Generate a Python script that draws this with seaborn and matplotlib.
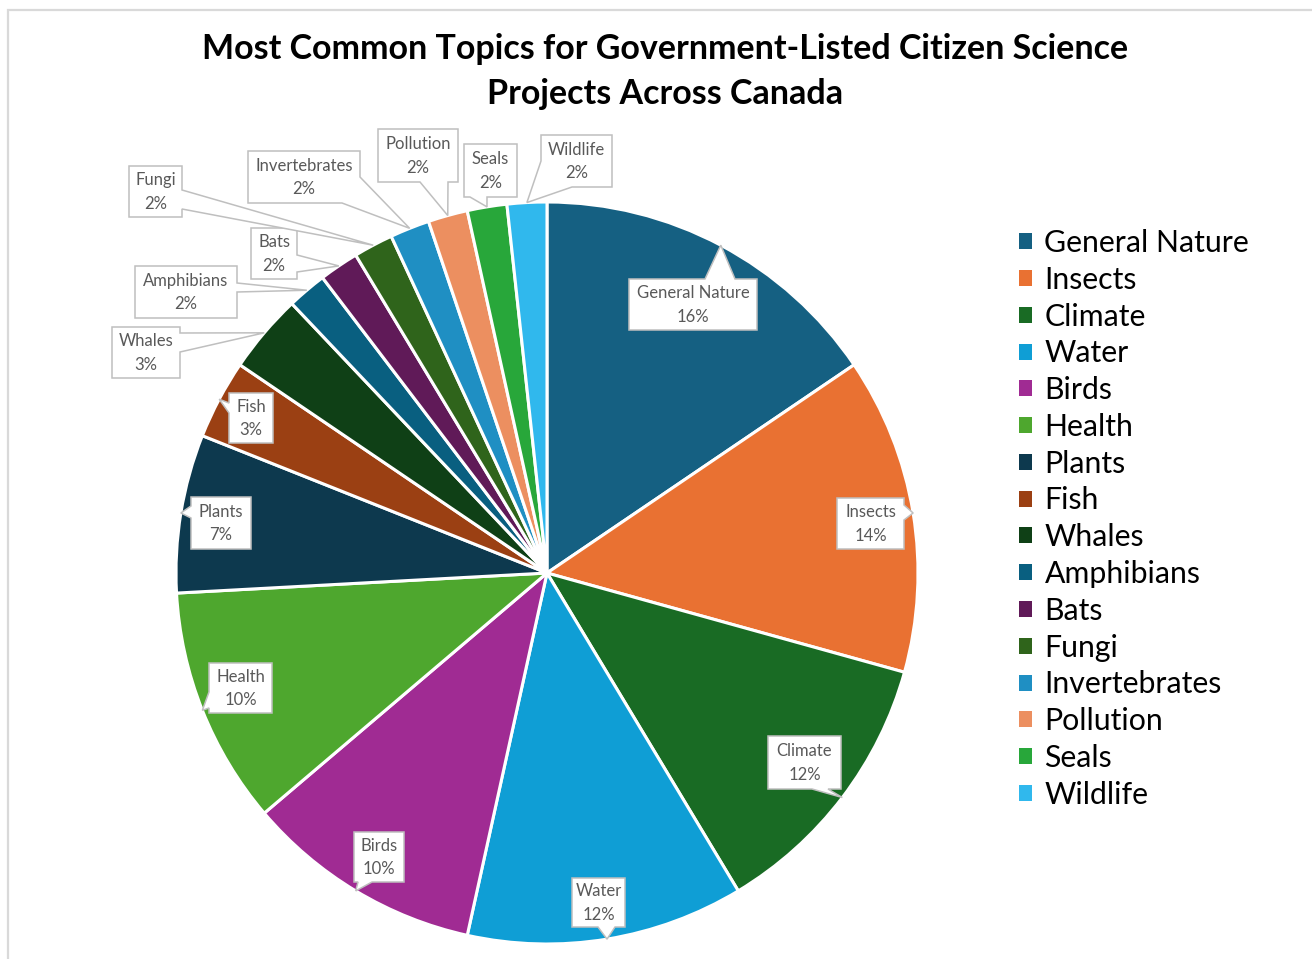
import matplotlib
matplotlib.use("Agg")
import matplotlib.pyplot as plt
import seaborn as sns
import numpy as np
from matplotlib.patches import Polygon, Patch

# ---------------- data ----------------
categories = ["General Nature", "Insects", "Climate", "Water", "Birds", "Health",
              "Plants", "Fish", "Whales", "Amphibians", "Bats", "Fungi",
              "Invertebrates", "Pollution", "Seals", "Wildlife"]
counts = [9, 8, 7, 7, 6, 6, 4, 2, 2, 1, 1, 1, 1, 1, 1, 1]
colors_hex = ["#156082", "#E97132", "#196B24", "#0F9ED5", "#A02B93", "#4EA72E",
              "#0D394E", "#9B4013", "#0F4016", "#095F80", "#601A58", "#2F641B",
              "#1F8FC3", "#EC8F60", "#28A73A", "#30B8ED"]
title_lines = ["Most Common Topics for Government-Listed Citizen Science",
               "Projects Across Canada"]

# ---------------- layout (pixel coords, y from top) ----------------
W, H = 1312, 959
CX, CY, R = 547, 573, 371
label_boxes = [(629, 279, 757, 330), (837, 498, 904, 549), (768, 736, 841, 789),
               (572, 878, 625, 927), (354, 832, 404, 882), (209, 663, 272, 713),
               (191, 497, 251, 549), (229, 393, 273, 443), (112, 327, 180, 378),
               (135, 266, 237, 318), (251, 228, 297, 279), (129, 166, 182, 217),
               (248, 151, 360, 203), (378, 129, 458, 182), (464, 144, 517, 197),
               (541, 135, 612, 187)]
notch_bases = [((705, 279), (735, 279)), ((904, 505), (904, 520)), ((828, 789), (812, 789)),
               ((615, 927), (598, 927)), ((372, 882), (358, 882)), ((209, 708), (209, 692)),
               ((191, 518), (191, 506)), ((229, 413), (229, 403)), ((180, 333), (180, 352)),
               ((237, 283), (237, 292)), ((297, 255), (297, 272)), ((182, 190), (182, 209)),
               ((360, 177), (342, 203)), ((448, 182), (420, 182)), ((487, 197), (470, 197)),
               ((572, 187), (541, 161))]

sns.set_theme(style="white")
plt.rcParams['font.family'] = ['Lato', 'DejaVu Sans']

fig = plt.figure(figsize=(W / 100, H / 100), dpi=100)
ax = fig.add_axes([0, 0, 1, 1])

palette = sns.color_palette(colors_hex)
wedges, _ = ax.pie(counts, colors=palette, startangle=90, counterclock=False,
                   center=(CX, H - CY), radius=R,
                   wedgeprops=dict(edgecolor="white", linewidth=2.2))
ax.set_xlim(0, W)
ax.set_ylim(0, H)
ax.set_aspect("equal")
ax.axis("off")

# chart border (left and top)
ax.plot([8, 8, W + 5], [-5, H - 10, H - 10], color="#D9D9D9", lw=1.6,
        solid_joinstyle="miter", clip_on=False)


def perim_t(box, p):
    x0, y0, x1, y1 = box
    px, py = p
    if abs(py - y0) < 1e-6 and px < x1:
        return (px - x0) / (x1 - x0)
    if abs(px - x1) < 1e-6:
        return 1 + (py - y0) / (y1 - y0)
    if abs(py - y1) < 1e-6:
        return 2 + (x1 - px) / (x1 - x0)
    return 3 + (y1 - py) / (y1 - y0)


def callout(box, pa, pb, tip):
    x0, y0, x1, y1 = box
    corners = [(0, (x0, y0)), (1, (x1, y0)), (2, (x1, y1)), (3, (x0, y1))]
    ta, tb = perim_t(box, pa), perim_t(box, pb)
    pts = []
    for t, c in corners:
        if ta < t < tb:
            continue
        pts.append((t, c))
    pts.append((ta, pa))
    pts.append((ta + 1e-4, tip))
    pts.append((tb, pb))
    pts.sort(key=lambda z: z[0])
    return [p for _, p in pts]


total = sum(counts)
cum = np.cumsum([0] + counts)
for i, name in enumerate(categories):
    mid = (cum[i] + cum[i + 1]) / 2 / total * 2 * np.pi
    tip = (CX + R * np.sin(mid), CY - R * np.cos(mid))
    box = label_boxes[i]
    pa, pb = notch_bases[i]
    poly = callout(box, pa, pb, tip)
    poly = [(x, H - y) for x, y in poly]
    ax.add_patch(Polygon(poly, closed=True, facecolor="white", edgecolor="#BFBFBF",
                         lw=1.1, zorder=5, joinstyle="miter"))
    pct = round(counts[i] / total * 100)
    ax.text((box[0] + box[2]) / 2, H - (box[1] + box[3]) / 2 - 0.5,
            f"{name}\n{pct}%", ha="center", va="center", fontsize=12,
            color="#595959", linespacing=1.6, zorder=6)

# title
ax.text(665, H - 49, title_lines[0], ha="center", va="center", fontsize=24.5,
        fontweight="bold", color="black")
ax.text(665, H - 94, title_lines[1], ha="center", va="center", fontsize=24.5,
        fontweight="bold", color="black")

# legend
handles = [Patch(facecolor=c, edgecolor="none") for c in palette]
leg = ax.legend(handles, categories, loc="upper left", bbox_to_anchor=(1019, H - 229),
                bbox_transform=ax.transData, frameon=False, fontsize=21.8,
                handlelength=0.44, handleheight=0.44, handletextpad=0.4,
                labelspacing=0.29, borderpad=0, borderaxespad=0)
for t in leg.get_texts():
    t.set_color("black")

fig.savefig("out.png", dpi=100)
